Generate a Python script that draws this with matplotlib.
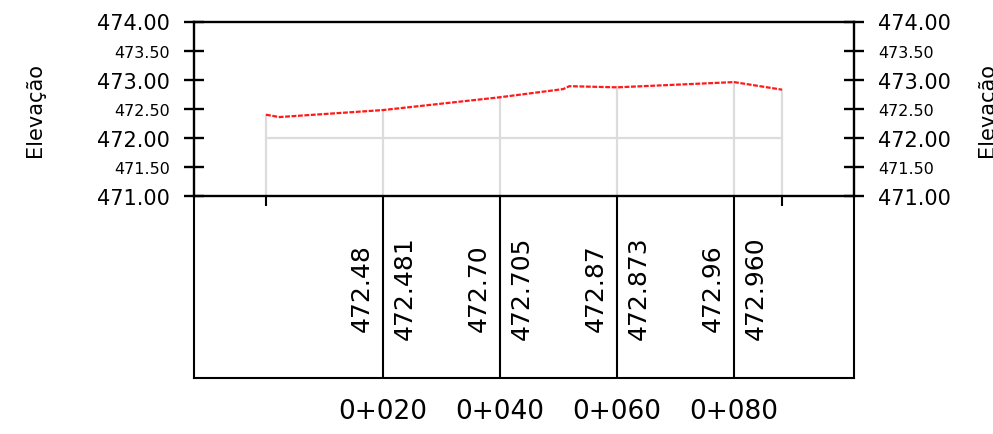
import matplotlib.pyplot as plt

# perfil do greide (estaca em m, cota em m)
prof_sta = [0.0, 2.3, 20.0, 40.0, 50.8, 51.85, 60.0, 80.0, 88.2]
prof_elev = [472.40, 472.36, 472.48, 472.70, 472.84, 472.89, 472.87, 472.96, 472.83]

# estacas com linhas de grade
grid_sta = [0.0, 20.0, 40.0, 60.0, 80.0, 88.2]
grid_elev = [472.40, 472.48, 472.70, 472.87, 472.96, 472.83]

# faixa inferior: cotas por estaca
band_sta = [20, 40, 60, 80]
band_left = [472.48, 472.70, 472.87, 472.96]
band_right = [472.481, 472.705, 472.873, 472.960]
band_labels = ["0+020", "0+040", "0+060", "0+080"]

y_ticks = [471.0, 471.5, 472.0, 472.5, 473.0, 473.5, 474.0]
x_range = (-12.3, 100.5)

W, H = 993, 435
fig = plt.figure(figsize=(W / 100, H / 100), dpi=100)

band = fig.add_axes([194 / W, (H - 379.3) / H, 660 / W, 182 / H])
ax = fig.add_axes([194 / W, (H - 197.3) / H, 660 / W, 174.8 / H])
band.patch.set_visible(False)
ax.patch.set_visible(False)

ax.set_xlim(*x_range)
band.set_xlim(*x_range)
ax.set_ylim(471.0, 474.0)

# grade cinza
for s, e in zip(grid_sta, grid_elev):
    ax.plot([s, s], [471.0, e], color="#dcdcdc", lw=1.6, zorder=1)
ax.plot([grid_sta[0], grid_sta[-1]], [472.0, 472.0], color="#dcdcdc", lw=1.6, zorder=1)

ax.plot(prof_sta, prof_elev, color="#ff1a1a", lw=1.6, linestyle=(0, (2.2, 0.7)), zorder=3)

for sp in ax.spines.values():
    sp.set_color("black")
    sp.set_linewidth(1.7)

ax.set_yticks(y_ticks)
ax.set_yticklabels([f"{v:.2f}" for v in y_ticks])
ax.tick_params(axis="y", direction="inout", length=14.4, width=1.7, pad=10,
               left=True, right=True, labelleft=True, labelright=True)
for t, v in zip(ax.yaxis.get_major_ticks(), y_ticks):
    fs = 15 if v == int(v) else 11.5
    t.label1.set_fontsize(fs)
    t.label2.set_fontsize(fs)

ax.set_xticks([grid_sta[0], grid_sta[-1]])
ax.tick_params(axis="x", direction="out", length=7.2, width=1.5, labelbottom=False)

# faixa inferior
band.set_ylim(0, 1)
band.spines["top"].set_visible(False)
for k in ("left", "right", "bottom"):
    band.spines[k].set_color("black")
    band.spines[k].set_linewidth(1.5)
band.set_yticks([])
for s in band_sta:
    band.axvline(s, color="black", lw=1.5)
for s, lv, rv in zip(band_sta, band_left, band_right):
    band.annotate(f"{lv:.2f}", xy=(s, 0.5), xycoords=("data", "axes fraction"),
                  xytext=(-7, 0), textcoords="offset points", rotation=90,
                  ha="right", va="center", fontsize=18)
    band.annotate(f"{rv:.3f}", xy=(s, 0.5), xycoords=("data", "axes fraction"),
                  xytext=(7, 0), textcoords="offset points", rotation=90,
                  ha="left", va="center", fontsize=18)
band.set_xticks(band_sta)
band.set_xticklabels(band_labels, fontsize=19)
band.tick_params(axis="x", length=0, pad=14)

fig.text(35 / W, (H - 110) / H, "Elevação", rotation=90, ha="center", va="center", fontsize=15)
fig.text(987 / W, (H - 110) / H, "Elevação", rotation=90, ha="center", va="center", fontsize=15)

fig.savefig("out.png", dpi=100)
